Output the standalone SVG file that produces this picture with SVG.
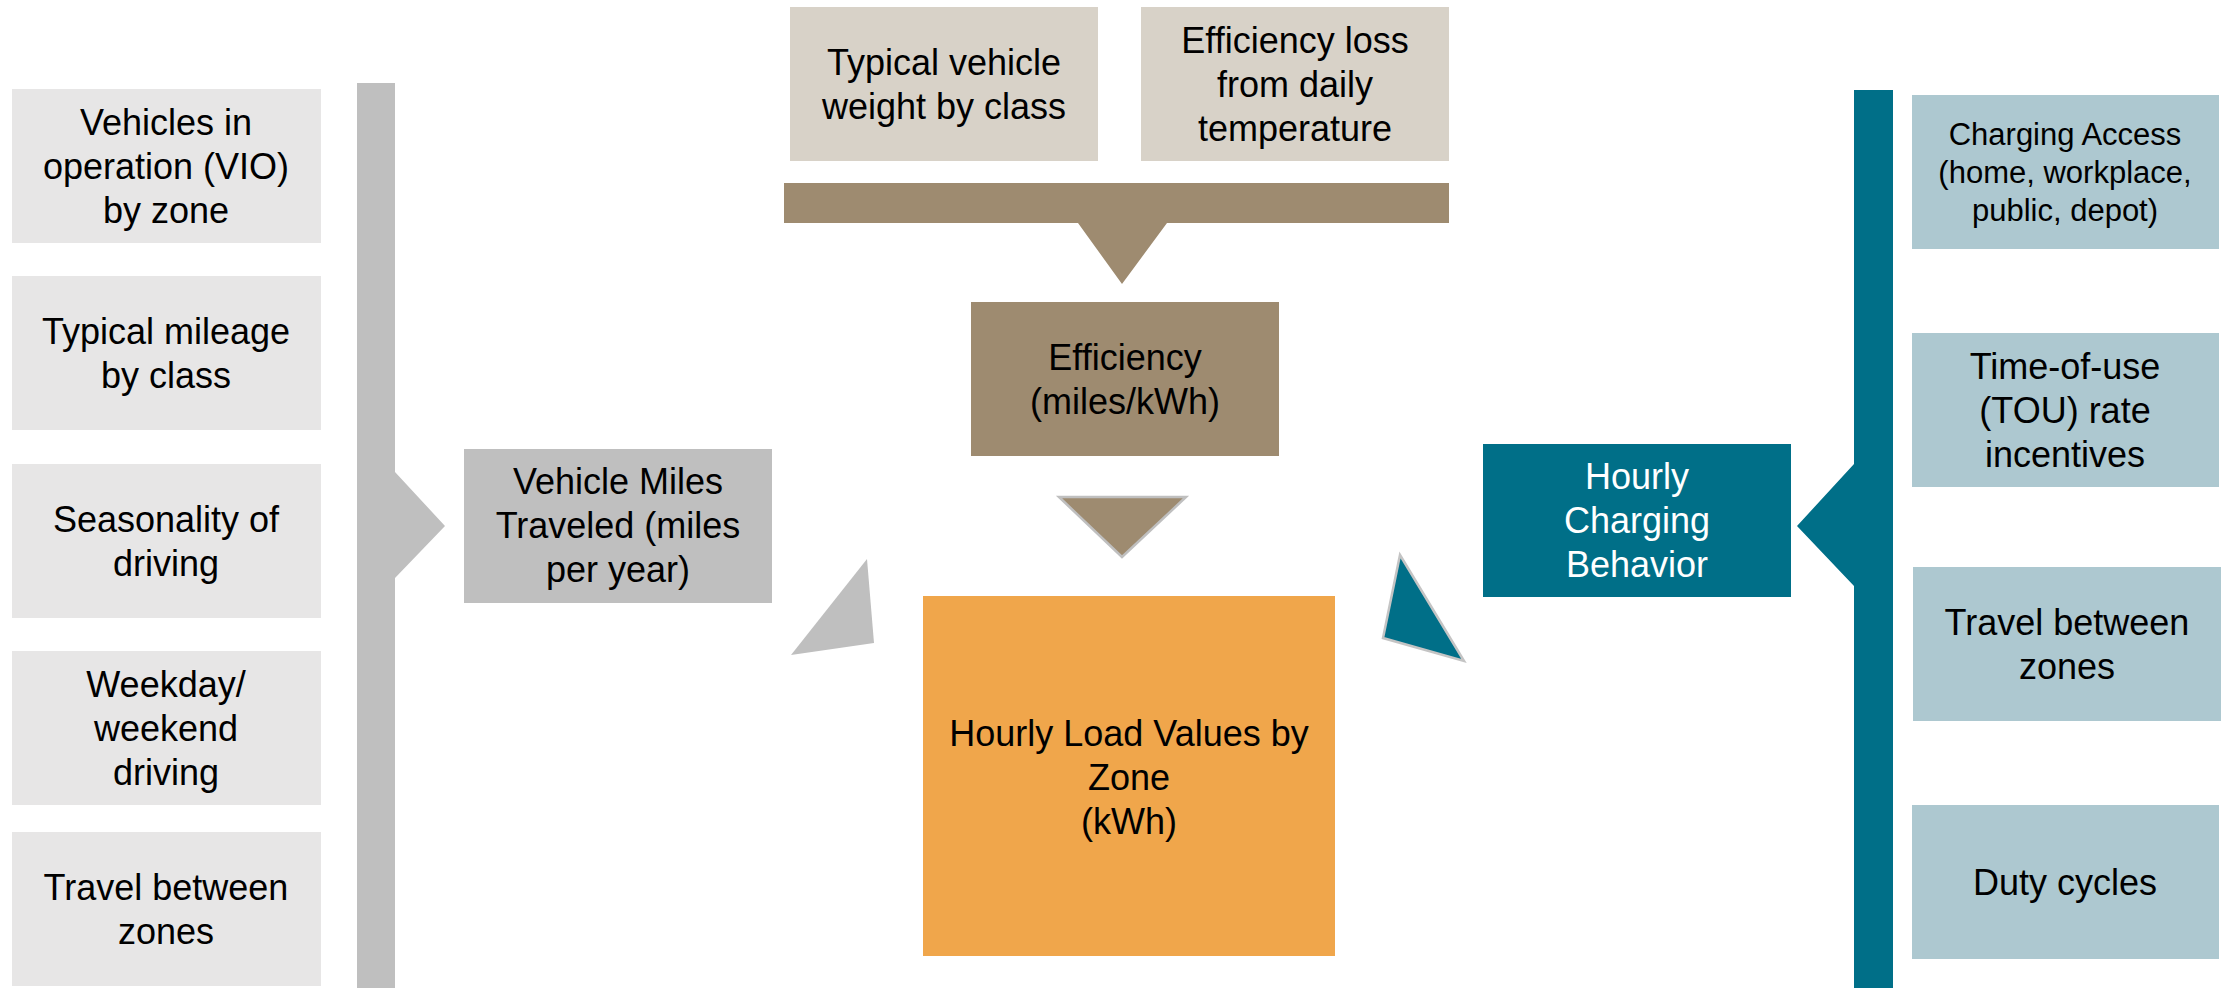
<svg xmlns="http://www.w3.org/2000/svg" width="2236" height="988" viewBox="0 0 2236 988">
<style>
text{font-family:"Liberation Sans",Arial,sans-serif;font-size:36px;fill:#000;text-anchor:middle}
.sm{font-size:31px}
.w{fill:#fff}
.lb{fill:#e7e6e6}
.gr{fill:#bfbfbf}
.be{fill:#d8d2c8}
.br{fill:#9e8b70}
.or{fill:#f0a64b}
.te{fill:#006f88}
.bl{fill:#adc8d0}
</style>
<rect width="2236" height="988" fill="#fff"/>
<g id="connectors">
<polygon class="gr" points="357,83 395,83 395,472 445,526 395,578 395,988 357,988"/>
<polygon class="br" points="784,183 1449,183 1449,223 1167,223 1122,284 1078,223 784,223"/>
<polygon class="te" points="1854,90 1893,90 1893,988 1854,988 1854,586 1797,526 1854,464"/>
<polygon class="br" points="1059,497 1186,497 1122,557" stroke="#bfbfbf" stroke-width="2.5"/>
<polygon class="gr" points="867,559 874,643 791,655"/>
<polygon class="te" points="1400,555 1464,661 1383,638" stroke="#c4c4c4" stroke-width="2.5"/>
</g>
<g id="n-vio"><rect class="lb" x="12" y="89" width="309" height="154"/><text><tspan x="166" y="135">Vehicles in</tspan><tspan x="166" y="179">operation (VIO)</tspan><tspan x="166" y="223">by zone</tspan></text></g>
<g id="n-mileage"><rect class="lb" x="12" y="276" width="309" height="154"/><text><tspan x="166" y="344">Typical mileage</tspan><tspan x="166" y="388">by class</tspan></text></g>
<g id="n-season"><rect class="lb" x="12" y="464" width="309" height="154"/><text><tspan x="166" y="532">Seasonality of</tspan><tspan x="166" y="576">driving</tspan></text></g>
<g id="n-weekday"><rect class="lb" x="12" y="651" width="309" height="154"/><text><tspan x="166" y="697">Weekday/</tspan><tspan x="166" y="741">weekend</tspan><tspan x="166" y="785">driving</tspan></text></g>
<g id="n-travel-left"><rect class="lb" x="12" y="832" width="309" height="154"/><text><tspan x="166" y="900">Travel between</tspan><tspan x="166" y="944">zones</tspan></text></g>
<g id="n-vmt"><rect class="gr" x="464" y="449" width="308" height="154"/><text><tspan x="618" y="494">Vehicle Miles</tspan><tspan x="618" y="538">Traveled (miles</tspan><tspan x="618" y="582">per year)</tspan></text></g>
<g id="n-weight"><rect class="be" x="790" y="7" width="308" height="154"/><text><tspan x="944" y="75">Typical vehicle</tspan><tspan x="944" y="119">weight by class</tspan></text></g>
<g id="n-temp"><rect class="be" x="1141" y="7" width="308" height="154"/><text><tspan x="1295" y="53">Efficiency loss</tspan><tspan x="1295" y="97">from daily</tspan><tspan x="1295" y="141">temperature</tspan></text></g>
<g id="n-eff"><rect class="br" x="971" y="302" width="308" height="154"/><text><tspan x="1125" y="370">Efficiency</tspan><tspan x="1125" y="414">(miles/kWh)</tspan></text></g>
<g id="n-load"><rect class="or" x="923" y="596" width="412" height="360"/><text><tspan x="1129" y="746">Hourly Load Values by</tspan><tspan x="1129" y="790">Zone</tspan><tspan x="1129" y="834">(kWh)</tspan></text></g>
<g id="n-charging"><rect class="te" x="1483" y="444" width="308" height="153"/><text class="w"><tspan x="1637" y="489">Hourly</tspan><tspan x="1637" y="533">Charging</tspan><tspan x="1637" y="577">Behavior</tspan></text></g>
<g id="n-access"><rect class="bl" x="1912" y="95" width="307" height="154"/><text class="sm"><tspan x="2065" y="145">Charging Access</tspan><tspan x="2065" y="183">(home, workplace,</tspan><tspan x="2065" y="221">public, depot)</tspan></text></g>
<g id="n-tou"><rect class="bl" x="1912" y="333" width="307" height="154"/><text><tspan x="2065" y="379">Time-of-use</tspan><tspan x="2065" y="423">(TOU) rate</tspan><tspan x="2065" y="467">incentives</tspan></text></g>
<g id="n-travel-right"><rect class="bl" x="1913" y="567" width="308" height="154"/><text><tspan x="2067" y="635">Travel between</tspan><tspan x="2067" y="679">zones</tspan></text></g>
<g id="n-duty"><rect class="bl" x="1912" y="805" width="307" height="154"/><text><tspan x="2065" y="895">Duty cycles</tspan></text></g>
</svg>
